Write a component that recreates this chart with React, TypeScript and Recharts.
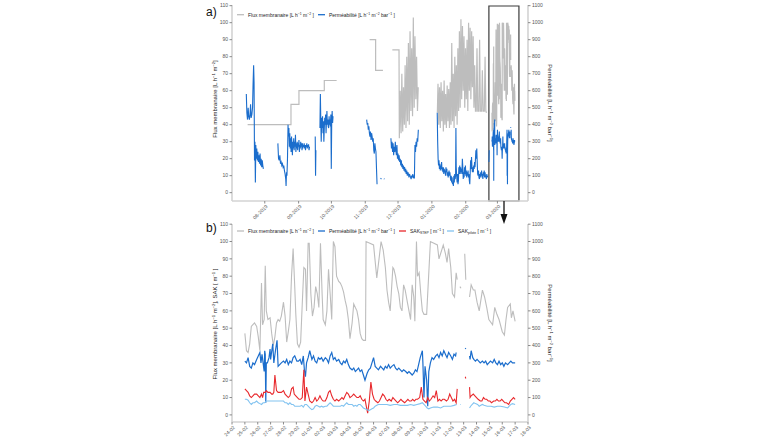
import React from 'react';
import { ComposedChart, Line, XAxis, YAxis, ReferenceArea, Legend } from 'recharts';

type P = [number, number | null];

// ---------- axis ticks / labels ----------
const monthTicksA = [31, 62, 92, 123, 153, 184, 215, 244]; // days since 01-07-2019
const monthLabelsA = ['08-2019', '09-2019', '10-2019', '11-2019', '12-2019', '01-2020', '02-2020', '03-2020'];
const dayTicksB = [0, 24, 48, 72, 96, 120, 144, 168, 192, 216, 240, 264, 288, 312, 336, 360, 384, 408, 432, 456, 480, 504, 528, 552]; // hours since 24-02-2020
const dayLabelsB = ['24-02', '25-02', '26-02', '27-02', '28-02', '29-02', '01-03', '02-03', '03-03', '04-03', '05-03', '06-03', '07-03', '08-03', '09-03', '10-03', '11-03', '12-03', '13-03', '14-03', '15-03', '16-03', '17-03', '18-03'];
const leftTicks = [0, 10, 20, 30, 40, 50, 60, 70, 80, 90, 100, 110];
const rightTicks = [0, 100, 200, 300, 400, 500, 600, 700, 800, 900, 1000, 1100];
const BOX_START_DAY = 238; // 24-02-2020 expressed in days since 01-07-2019
const BOX_END_DAY = 263.7;

// ---------- panel b (hours since 24-02-2020) ----------
const fluxB: P[] = [
  [24, 47], [27, 37], [30, 36], [33, 41], [36, 51], [39, 52], [42, 53], [46, 51], [49, 45], [52, 37], [55, 76], [57, 52], [60, 55], [62, 86], [64, 60], [67, 55], [71, 56], [74, 47], [77, 40], [80, 45], [83, 53], [86, 55], [89, 54], [92, 57], [96, 65], [99, 57], [102, 42], [105, 48], [108, 55], [111, 80], [114, 96], [117, 74], [119, 58], [122, 41], [125, 39], [128, 42], [131, 64], [134, 85], [137, 84], [139, 60], [142, 99], [144, 99], [147, 70], [150, 57], [153, 62], [156, 74], [159, 70], [162, 62], [165, 99], [168, 70], [170, 55], [174, 52], [177, 60], [180, 84], [183, 70], [186, 55], [189, 100], [192, 97], [195, 80], [199, 77], [202, 76], [205, 74], [208, 71], [211, 66], [214, 62], [217, 55], [220, 44], [224, 53], [227, 64], [230, 62], [233, 60], [236, 55], [239, 47], [242, 44], [245, 43], [249, 43], [250, 100], [264, 98], [270, 79], [278, 100], [282, 95], [286, 85], [289, 72], [292, 65], [295, 60], [300, 85], [302, 84], [305, 80], [308, 74], [311, 70], [314, 62], [317, 60], [320, 75], [323, 72], [327, 65], [330, 60], [333, 55], [336, 75], [339, 68], [341, 54], [344, 100], [346, 80], [349, 82], [352, 70], [355, 60], [358, 58], [363, 58], [370, 100], [383, 98], [386, 90], [394, 98], [398, 93], [401, 88], [404, 96], [408, 85], [411, 70], [415, 68], [418, 82], [420, 78], [422, null],
  [425, 74], [427, 73], [430, null],
  [434, 93], [436, 78], [439, null],
  [443, 68], [446, 75], [450, 72], [453, 72], [457, 65], [461, 60], [467, 72], [471, 68], [475, 62], [479, 55], [486, 52], [490, 62], [494, 58], [498, 55], [504, 48], [508, 46], [511, 55], [514, 62], [519, 64], [521, 56], [524, 60], [528, 54],
];

const permB: P[] = [
  [24, 310], [27, 300], [30, 330], [33, 280], [36, 270], [39, 300], [42, 290], [46, 320], [49, 340], [52, 360], [54, 300], [56, 350], [58, 300], [60, 250], [61, 370], [62, 350], [63, 70], [64, 300], [66, 300], [69, 330], [71, 380], [72, 320], [76, 410], [78, 300], [81, 370], [84, 430], [86, 280], [89, 290], [92, 300], [96, 310], [99, 300], [102, 320], [105, 290], [108, 310], [111, 300], [114, 330], [117, 340], [121, 310], [124, 310], [127, 320], [130, 290], [133, 340], [135, 260], [137, 220], [139, 300], [142, 330], [145, 370], [149, 320], [152, 340], [155, 310], [158, 300], [161, 330], [164, 320], [167, 330], [170, 310], [174, 330], [177, 320], [180, 300], [183, 340], [186, 360], [189, 320], [192, 330], [195, 310], [199, 320], [202, 300], [205, 290], [208, 310], [211, 300], [214, 320], [217, 290], [220, 270], [224, 260], [227, 270], [230, 250], [233, 260], [236, 270], [239, 250], [242, 260], [245, 230], [248, 200], [252, 240], [255, 260], [258, 270], [261, 300], [264, 330], [267, 280], [270, 270], [273, 260], [277, 280], [280, 270], [283, 260], [286, 280], [289, 270], [292, 290], [295, 270], [298, 280], [302, 290], [305, 270], [308, 260], [311, 270], [314, 260], [317, 250], [320, 260], [324, 250], [327, 240], [330, 250], [333, 240], [336, 230], [339, 240], [342, 260], [345, 250], [348, 290], [351, 330], [355, 370], [356, 300], [358, 100], [360, 280], [363, 200], [365, 50], [367, 250], [370, 300], [373, 330], [376, 320], [380, 340], [383, 350], [386, 330], [389, 360], [392, 340], [395, 370], [398, 350], [401, 330], [404, 360], [408, 340], [411, 320], [414, 350], [417, 340], [418, 360], [421, null],
  [435, 385], [436, 380], [439, null],
  [443, 340], [444, 320], [446, 370], [449, 330], [451, 320], [454, 310], [457, 320], [460, 310], [463, 300], [467, 310], [470, 300], [473, 310], [476, 290], [479, 300], [482, 310], [486, 300], [489, 320], [492, 300], [495, 290], [498, 310], [501, 290], [504, 300], [507, 280], [510, 300], [514, 290], [517, 300], [520, 310], [523, 300], [526, 300], [528, 300],
];

const sakStepB: P[] = [
  [24, 15], [27, 14], [30, 13], [33, 11], [36, 10], [39, 11], [42, 12], [46, 12], [49, 11], [52, 10], [55, 12], [57, 10], [59, 13], [62, 13], [64, 14], [67, 13], [71, 13], [74, 12], [76, 12], [78, 13], [80, 23], [83, 14], [86, 13], [89, 13], [92, 13], [96, 14], [99, 12], [102, 11], [105, 10], [108, 11], [111, 15], [114, 16], [116, 12], [119, 11], [122, 10], [125, 9], [128, 9], [131, 10], [134, 26], [136, 8], [139, 16], [142, 12], [145, 8], [149, 7], [152, 8], [155, 10], [158, 8], [161, 9], [164, 11], [167, 9], [170, 8], [174, 8], [177, 10], [180, 13], [183, 14], [186, 11], [189, 9], [192, 8], [195, 9], [199, 8], [202, 9], [205, 10], [208, 9], [211, 11], [214, 13], [217, 12], [220, 10], [224, 11], [227, 12], [230, 11], [233, 10], [236, 10], [239, 11], [242, 9], [245, 8], [248, 9], [251, 4], [253, 1], [256, 8], [259, 19], [262, 12], [265, 9], [268, 8], [272, 7], [275, 8], [278, 10], [281, 12], [284, 11], [287, 9], [290, 8], [293, 9], [297, 8], [300, 10], [303, 9], [306, 8], [309, 7], [312, 8], [315, 9], [318, 8], [322, 7], [325, 8], [328, 9], [331, 8], [334, 8], [337, 9], [340, 8], [343, 9], [346, 9], [350, 10], [353, 16], [356, 9], [359, 8], [362, 7], [365, 10], [368, 8], [371, 9], [375, 11], [378, 10], [381, 14], [384, 8], [387, 9], [390, 8], [393, 9], [396, 9], [400, 8], [403, 9], [406, 12], [409, 10], [412, 8], [415, 9], [418, 7], [420, 15], [423, null],
  [435, 22], [436, 21], [439, null],
  [443, 16], [444, 10], [446, 11], [450, 12], [453, 11], [456, 10], [459, 9], [463, 8], [466, 8], [469, 10], [472, 9], [475, 9], [478, 8], [481, 8], [484, 7], [488, 8], [491, 8], [494, 9], [497, 8], [500, 8], [503, 9], [506, 8], [509, 7], [512, 7], [516, 6], [519, 8], [522, 9], [525, 10], [528, 9],
];

const sakPiloteB: P[] = [
  [24, 9], [27, 9], [30, 8.5], [33, 7], [36, 6], [39, 7], [42, 7], [46, 8], [49, 7], [52, 6.5], [55, 6], [58, 7], [61, 7], [64, 8], [71, 8], [77, 8], [83, 8], [89, 8], [96, 8], [99, 7], [102, 7], [105, 6], [108, 7], [111, 6], [114, 6], [117, 5], [121, 5], [124, 5], [127, 5], [130, 5.5], [133, 4.5], [136, 6], [139, 6], [142, 5], [145, 4], [149, 3], [152, 3.5], [155, 5], [158, 5.5], [161, 5], [164, 4.5], [167, 5], [170, 4.5], [174, 5], [177, 5], [180, 6], [183, 7], [186, 6], [189, 5], [192, 5], [195, 5], [199, 5], [202, 5], [205, 5.5], [208, 5], [211, 6], [214, 7], [217, 6], [220, 6], [224, 6], [227, 5], [230, 5.5], [233, 5], [236, 6], [239, 6], [242, 5], [245, 4], [248, 3.5], [252, 3], [255, 2.5], [258, 3], [261, 3.5], [264, 4], [267, 5], [270, 5.5], [273, 6], [277, 6], [280, 6], [283, 6], [289, 6], [295, 5.5], [302, 6], [308, 6], [314, 5.5], [320, 5.5], [327, 5.5], [333, 6], [339, 5.5], [345, 6], [351, 6.5], [355, 7], [358, 6], [361, 5], [364, 4], [367, 3.5], [370, 4], [376, 4.5], [383, 4.5], [389, 4], [395, 5], [401, 5], [408, 5], [414, 5.5], [419, 6], [422, null],
  [426, 6], [427, 6], [430, null],
  [443, 4], [445, 5], [448, 6], [451, 7], [454, 6.5], [458, 6], [461, 5], [464, 5.5], [467, 6], [470, 5.5], [476, 5], [483, 5], [489, 4.5], [495, 5], [501, 5], [508, 4.5], [514, 4], [520, 6], [523, 6.5], [528, 6],
];

// ---------- panel a (days since 01-07-2019), before the zoomed window ----------
const fluxAEarly: P[] = [
  [15.3, 40], [55, 40], [55, 52], [62.3, 52], [62.3, 60], [85.5, 60], [85.5, 66], [96.8, 66], [100, null],
  [127, 90], [132.5, 90], [132.5, 72], [139.2, 72], [140, null],
  [147.8, 84], [153.9, 84], [154.2, 32], [155, 60], [155.8, 35], [156.5, 70], [157.3, 36], [158, 62], [158.8, 40], [159.5, 75], [160.3, 38], [161, 80], [161.8, 42], [162.5, 88], [163.3, 40], [164, 95], [164.8, 48], [165.5, 85], [166.3, 45], [167, 103], [167.8, 50], [168.5, 92], [169.3, 55], [170, 80], [170.8, 48], [171.5, 62], [172, null],
  [189, 47], [189.6, 64], [190.3, 40], [191, 62], [191.7, 38], [192.4, 65], [193.1, 42], [193.8, 60], [194.5, 36], [195.2, 66], [195.9, 40], [196.6, 58], [197.3, 38], [198, 63], [198.7, 42], [199.4, 61], [200.1, 38], [200.8, 65], [201.5, 40], [202.2, 88], [202.9, 42], [203.6, 70], [204.3, 38], [205, 80], [205.7, 45], [206.4, 75], [207.1, 40], [207.8, 85], [208.5, 48], [209.2, 95], [209.9, 50], [210.6, 102], [211.3, 55], [212, 98], [212.7, 60], [213.4, 92], [214.1, 50], [214.8, 85], [215.5, 55], [216.2, 90], [216.9, 48], [217.6, 100], [218.3, 60], [219, 97], [219.7, 55], [220.4, 95], [221.1, 62], [221.8, 92], [222.5, 50], [223.2, 75], [223.9, 48], [224.6, 48], [225.3, 85], [226, 48], [227, 48], [227.7, 90], [228.4, 48], [229.5, 48], [230.2, 72], [230.9, 48], [232, 48], [232.7, 80], [233.4, 48], [234, 47], [234.5, null],
];

const permAEarly: P[] = [
  [14.1, 580], [14.6, 470], [15.2, 430], [15.8, 500], [16.3, 450], [16.9, 430], [17.5, 460], [18, 520], [18.5, 440], [19.2, 460], [19.8, 500], [20.3, 640], [20.8, 750], [21.2, 650], [21.6, 190], [22, 300], [22.4, 60], [22.8, 280], [23.2, 200], [23.7, 260], [24.2, 190], [24.7, 240], [25.2, 180], [25.7, 220], [26.2, 170], [26.7, 230], [27.2, 160], [27.7, 200], [28.2, 150], [28.7, 190], [29.2, 160], [29.7, 140], [30, null],
  [43, 290], [43.6, 200], [44.2, 190], [44.8, 220], [45.4, 170], [46, 180], [46.6, 160], [47.2, 170], [47.8, 150], [48.4, 160], [49, 130], [49.6, 110], [50.2, 80], [50.5, 40], [50.9, 120], [51.3, 100], [51.8, 200], [52.3, 400], [52.7, 330], [53.1, 380], [53.5, 270], [53.9, 350], [54.3, 260], [54.7, 320], [55.1, 240], [55.5, 330], [55.9, 280], [56.3, 220], [56.7, 300], [57.1, 260], [57.5, 320], [57.9, 250], [58.3, 300], [58.7, 270], [59.1, 340], [59.5, 240], [59.9, 290], [60.3, 260], [60.7, 300], [61.1, 250], [61.5, 290], [61.9, 270], [62.3, 310], [62.7, 240], [63.1, 280], [63.5, 260], [63.9, 300], [64.3, 270], [64.7, 290], [65.1, 250], [65.5, 290], [65.9, 260], [66.3, 280], [66.7, 270], [67.1, 290], [67.5, 260], [67.9, 280], [68.3, 250], [68.7, 280], [69.1, 270], [69.5, 290], [69.9, 260], [70.3, 280], [70.7, 270], [71.1, 285], [71.5, 250], [72, 270], [72.5, null],
  [77.2, 330], [77.5, 100], [77.8, 250], [78.1, null],
  [81.5, 380], [81.9, 580], [82.3, 420], [82.7, 300], [83.1, 440], [83.5, 380], [83.9, 450], [84.3, 350], [84.7, 420], [85.1, 300], [85.5, 380], [85.9, 440], [86.3, 400], [86.7, 460], [87.1, 350], [87.5, 420], [87.9, 480], [88.3, 400], [88.7, 430], [89.1, 390], [89.5, 380], [89.9, 450], [90.3, 400], [90.7, 430], [91.1, 390], [91.5, 460], [91.9, 140], [92.3, 420], [92.7, 480], [93.1, 410], [93.5, 450], [93.8, null],
  [124.3, 430], [124.8, 400], [125.3, 410], [125.8, 370], [126.3, 390], [126.8, 350], [127.3, 330], [127.8, 360], [128.3, 310], [128.8, 350], [129.3, 330], [129.8, 300], [130.3, 320], [130.8, 250], [131.3, 230], [131.8, 290], [132.3, 260], [132.8, 240], [133.3, 140], [133.8, 50], [134.2, null],
  [137, 85], [137.8, 80], [138.5, null], [140, 82], [140.6, 80], [141, null],
  [146.5, 320], [147, 260], [147.5, 300], [148, 240], [148.5, 290], [149, 220], [149.5, 270], [150, 240], [150.5, 300], [151, 250], [151.5, 220], [152, 280], [152.5, 200], [153, 230], [153.5, 190], [154, 220], [154.5, 180], [155, 200], [155.5, 160], [156, 190], [156.5, 150], [157, 170], [157.5, 140], [158, 160], [158.5, 130], [159, 150], [159.5, 120], [160, 140], [160.5, 110], [161, 130], [161.5, 100], [162, 120], [162.5, 110], [163, 90], [163.5, 110], [164, 100], [164.5, 90], [165, 80], [165.5, 100], [166, 90], [166.5, 110], [167, 85], [167.5, 95], [168, 90], [168.5, 280], [169, 240], [169.5, 300], [170, 270], [170.5, 320], [171, 300], [171.6, 370], [172, null],
  [188.9, 470], [189.3, 300], [189.7, 200], [190.1, 160], [190.5, 190], [190.9, 140], [191.3, 170], [191.7, 130], [192.1, 160], [192.5, 140], [192.9, 180], [193.3, 130], [193.7, 150], [194.1, 120], [194.5, 150], [194.9, 110], [195.3, 140], [195.7, 120], [196.1, 130], [196.5, 100], [196.9, 150], [197.3, 120], [197.7, 140], [198.1, 100], [198.5, 120], [198.9, 90], [199.3, 110], [199.7, 130], [200.1, 100], [200.5, 120], [200.9, 90], [201.3, 70], [201.7, 100], [202.1, 60], [202.5, 90], [202.9, 50], [203.3, 60], [203.7, 40], [204.1, 100], [204.5, 60], [204.9, 110], [205.3, 80], [205.7, 100], [206, 380], [206.3, 150], [206.7, 100], [207.1, 60], [207.5, 110], [207.9, 50], [208.3, 70], [208.7, 150], [209.1, 110], [209.5, 160], [209.9, 110], [210.3, 150], [210.7, 120], [211.1, 140], [211.5, 110], [211.9, 200], [212.3, 150], [212.7, 80], [213.1, 120], [213.5, 90], [213.9, 150], [214.3, 110], [214.7, 160], [215.1, 100], [215.5, 130], [215.9, 90], [216.3, 120], [216.7, 100], [217.1, 130], [217.5, 90], [217.9, 110], [218.3, 70], [218.7, 50], [219.1, 120], [219.5, 190], [219.9, 140], [220.3, 210], [220.7, 150], [221.1, 120], [221.5, 150], [221.9, 120], [222.3, 160], [222.7, 140], [223.1, 180], [223.5, 150], [223.9, 200], [224.3, 250], [224.7, 200], [225.1, 260], [225.5, 180], [225.9, 110], [226.3, 100], [226.7, 130], [227.1, 90], [227.5, 80], [227.9, 110], [228.3, 90], [228.7, 120], [229.1, 100], [229.5, 130], [229.9, 90], [230.3, 110], [230.7, 80], [231.1, 120], [231.5, 100], [231.9, 130], [232.3, 90], [232.7, 120], [233.1, 90], [233.5, 100], [233.9, 80], [234.3, 110], [234.7, 90], [235.1, 100], [235.5, null],
  [236.2, 180], [236.5, 250], [236.8, null],
];

// ---------- helpers ----------
const rows = (pts: P[], shift = 0, scale = 1) => pts.map(([x, v]) => ({ x: shift + x * scale, v }));
const fluxA = [...rows(fluxAEarly), { x: 237.5, v: null }, ...rows(fluxB, BOX_START_DAY, 1 / 24)];
const permA = [...rows(permAEarly), { x: 237.5, v: null }, ...rows(permB, BOX_START_DAY, 1 / 24)];

const GREY = '#bdbdbd';
const BLUE = '#1b6dcc';
const RED = '#e8282c';
const LBLUE = '#82c3f0';
const AXIS = '#d3d3d3';
const TICKC = '#8a8a8a';
const TXT = '#555555';
const FONT = '"Liberation Sans", Arial, sans-serif';

type Part = [string, number];
const rich = (parts: Part[], F: number) => {
  let cur = 0;
  return parts.map(([t, k], i) => {
    const target = k === 1 ? -0.38 * F : k === -1 ? 0.22 * F : 0;
    const dy = target - cur;
    cur = target;
    return (
      <tspan key={i} dy={dy} fontSize={k ? F * 0.68 : F}>
        {t}
      </tspan>
    );
  });
};

const fluxLeg: Part[] = [['Flux membranaire [L h', 0], ['−1', 1], [' m', 0], ['−2', 1], [' ]', 0]];
const permLeg: Part[] = [['Perméabilité [L h', 0], ['−1', 1], [' m', 0], ['−2', 1], [' bar', 0], ['−1', 1], [' ]', 0]];
const stepLeg: Part[] = [['SAK', 0], ['STEP', -1], [' [ m', 0], ['−1', 1], [' ]', 0]];
const pilLeg: Part[] = [['SAK', 0], ['pilote', -1], [' [ m', 0], ['−1', 1], [' ]', 0]];
const fluxTitle: Part[] = [['Flux membranaire [L h', 0], ['−1', 1], [' m', 0], ['−2', 1], [']', 0]];
const fluxSakTitle: Part[] = [['Flux membranaire [L h', 0], ['−1', 1], [' m', 0], ['−2', 1], ['], SAK [ m', 0], ['−1', 1], [' ]', 0]];
const permTitle: Part[] = [['Perméabilité [L h', 0], ['−1', 1], [' m', 0], ['−2', 1], [' bar', 0], ['−1', 1], [']', 0]];

const makeXTick = (ticks: number[], labels: string[]) => (props: any) => {
  const { x, y, payload } = props;
  const i = ticks.indexOf(payload.value);
  return (
    <g transform={`translate(${x},${y})`}>
      <text x={0} y={0} dy={3.2} dx={1.5} transform="rotate(-45)" textAnchor="end" fontSize={5} fill={TXT} fontFamily={FONT}>
        {i >= 0 ? labels[i] : ''}
      </text>
    </g>
  );
};

type LegItem = { x: number; color: string; parts: Part[] };
const legendContent = (items: LegItem[], cy: number) => () => (
  <div style={{ position: 'relative', width: 0, height: 0 }}>
    <svg width={760} height={40} style={{ position: 'absolute', left: 0, top: 0, overflow: 'visible' }}>
      {items.map((it, i) => (
        <g key={i}>
          <line x1={it.x} x2={it.x + 7} y1={cy} y2={cy} stroke={it.color} strokeWidth={1.3} />
          <text x={it.x + 11} y={cy + 1.8} fontSize={5} fill="#222" fontFamily={FONT}>
            {rich(it.parts, 5)}
          </text>
        </g>
      ))}
    </svg>
  </div>
);

const legendA: LegItem[] = [
  { x: 237, color: GREY, parts: fluxLeg },
  { x: 318, color: BLUE, parts: permLeg },
];
const legendB: LegItem[] = [
  { x: 237, color: GREY, parts: fluxLeg },
  { x: 318, color: BLUE, parts: permLeg },
  { x: 399, color: RED, parts: stepLeg },
  { x: 447, color: LBLUE, parts: pilLeg },
];

const yTickStyle = { fontSize: 5, fill: TXT, fontFamily: FONT };

export default function App() {
  return (
    <div style={{ position: 'absolute', left: 0, top: 0, width: 760, height: 440, background: '#fff', fontFamily: FONT }}>
      {/* Panel a */}
      <div style={{ position: 'absolute', left: 0, top: 0 }}>
        <ComposedChart width={760} height={232} margin={{ top: 5, right: 202, bottom: 0, left: 202 }}>
          <XAxis
            dataKey="x"
            type="number"
            domain={[1, 272]}
            ticks={monthTicksA}
            interval={0}
            height={31}
            allowDataOverflow
            axisLine={{ stroke: AXIS, strokeWidth: 1.6 }}
            tickLine={{ stroke: TICKC }}
            tickSize={2.5}
            tick={makeXTick(monthTicksA, monthLabelsA)}
          />
          <XAxis xAxisId="top" orientation="top" type="number" domain={[1, 272]} height={0} tick={false} tickLine={false} axisLine={{ stroke: AXIS, strokeWidth: 1.6 }} />
          <YAxis yAxisId="left" type="number" domain={[-4.9, 110.4]} ticks={leftTicks} interval={0} width={30} allowDataOverflow axisLine={{ stroke: AXIS, strokeWidth: 1.6 }} tickLine={{ stroke: TICKC }} tickSize={2.5} tickMargin={1.5} tick={yTickStyle} />
          <YAxis yAxisId="right" orientation="right" type="number" domain={[-49, 1104]} ticks={rightTicks} interval={0} width={30} allowDataOverflow axisLine={{ stroke: AXIS, strokeWidth: 1.6 }} tickLine={{ stroke: TICKC }} tickSize={2.5} tickMargin={1.5} tick={yTickStyle} />
          <Legend content={legendContent(legendA, 14.7)} wrapperStyle={{ position: 'absolute', left: 0, top: 0, width: 0, height: 0, margin: 0, padding: 0 }} />
          <Line data={fluxA} dataKey="v" name="Flux membranaire" yAxisId="left" type="linear" stroke={GREY} strokeWidth={1.2} dot={false} activeDot={false} connectNulls={false} isAnimationActive={false} />
          <Line data={permA} dataKey="v" name="Perméabilité" yAxisId="right" type="linear" stroke={BLUE} strokeWidth={1.1} dot={false} activeDot={false} connectNulls={false} isAnimationActive={false} />
          <ReferenceArea yAxisId="left" x1={BOX_START_DAY - 1.8} x2={BOX_END_DAY} y1={-4.9} y2={109.8} fill="none" fillOpacity={0} stroke="#3a3a3a" strokeWidth={1.2} ifOverflow="visible" />
        </ComposedChart>
      </div>

      {/* Panel b */}
      <div style={{ position: 'absolute', left: 0, top: 214 }}>
        <ComposedChart width={760} height={226} margin={{ top: 10, right: 202, bottom: 0, left: 202 }}>
          <XAxis
            dataKey="x"
            type="number"
            domain={[0, 552]}
            ticks={dayTicksB}
            interval={0}
            height={18}
            allowDataOverflow
            axisLine={{ stroke: AXIS, strokeWidth: 1.6 }}
            tickLine={{ stroke: TICKC }}
            tickSize={2.5}
            tick={makeXTick(dayTicksB, dayLabelsB)}
          />
          <XAxis xAxisId="top" orientation="top" type="number" domain={[0, 552]} height={0} tick={false} tickLine={false} axisLine={{ stroke: AXIS, strokeWidth: 1.6 }} />
          <YAxis yAxisId="left" type="number" domain={[-4.1, 110.1]} ticks={leftTicks} interval={0} width={30} allowDataOverflow axisLine={{ stroke: AXIS, strokeWidth: 1.6 }} tickLine={{ stroke: TICKC }} tickSize={2.5} tickMargin={1.5} tick={yTickStyle} />
          <YAxis yAxisId="right" orientation="right" type="number" domain={[-41, 1101]} ticks={rightTicks} interval={0} width={30} allowDataOverflow axisLine={{ stroke: AXIS, strokeWidth: 1.6 }} tickLine={{ stroke: TICKC }} tickSize={2.5} tickMargin={1.5} tick={yTickStyle} />
          <Legend content={legendContent(legendB, 17)} wrapperStyle={{ position: 'absolute', left: 0, top: 0, width: 0, height: 0, margin: 0, padding: 0 }} />
          <Line data={rows(fluxB)} dataKey="v" name="Flux membranaire" yAxisId="left" type="linear" stroke={GREY} strokeWidth={1.1} dot={false} activeDot={false} connectNulls={false} isAnimationActive={false} />
          <Line data={rows(permB)} dataKey="v" name="Perméabilité" yAxisId="right" type="linear" stroke={BLUE} strokeWidth={1.2} dot={false} activeDot={false} connectNulls={false} isAnimationActive={false} />
          <Line data={rows(sakStepB)} dataKey="v" name="SAK STEP" yAxisId="left" type="linear" stroke={RED} strokeWidth={1.1} dot={false} activeDot={false} connectNulls={false} isAnimationActive={false} />
          <Line data={rows(sakPiloteB)} dataKey="v" name="SAK pilote" yAxisId="left" type="linear" stroke={LBLUE} strokeWidth={1.1} dot={false} activeDot={false} connectNulls={false} isAnimationActive={false} />
        </ComposedChart>
      </div>

      {/* annotations */}
      <svg width={760} height={440} style={{ position: 'absolute', left: 0, top: 0, pointerEvents: 'none' }}>
        <text x={206} y={16} fontSize={12} fill="#111" fontFamily={FONT}>a)</text>
        <text x={206} y={232} fontSize={12} fill="#111" fontFamily={FONT}>b)</text>
        <text x={217} y={99} transform="rotate(-90 217 99)" textAnchor="middle" fontSize={6} fill="#222" fontFamily={FONT}>
          {rich(fluxTitle, 6)}
        </text>
        <text x={547.5} y={103} transform="rotate(90 547.5 103)" textAnchor="middle" fontSize={6} fill="#222" fontFamily={FONT}>
          {rich(permTitle, 6)}
        </text>
        <text x={217} y={324} transform="rotate(-90 217 324)" textAnchor="middle" fontSize={6} fill="#222" fontFamily={FONT}>
          {rich(fluxSakTitle, 6)}
        </text>
        <text x={547.5} y={323} transform="rotate(90 547.5 323)" textAnchor="middle" fontSize={6} fill="#222" fontFamily={FONT}>
          {rich(permTitle, 6)}
        </text>
        <line x1={504} x2={504} y1={201} y2={216} stroke="#111" strokeWidth={1.3} />
        <polygon points="500.5,214 507.5,214 504,224" fill="#111" />
      </svg>
    </div>
  );
}
